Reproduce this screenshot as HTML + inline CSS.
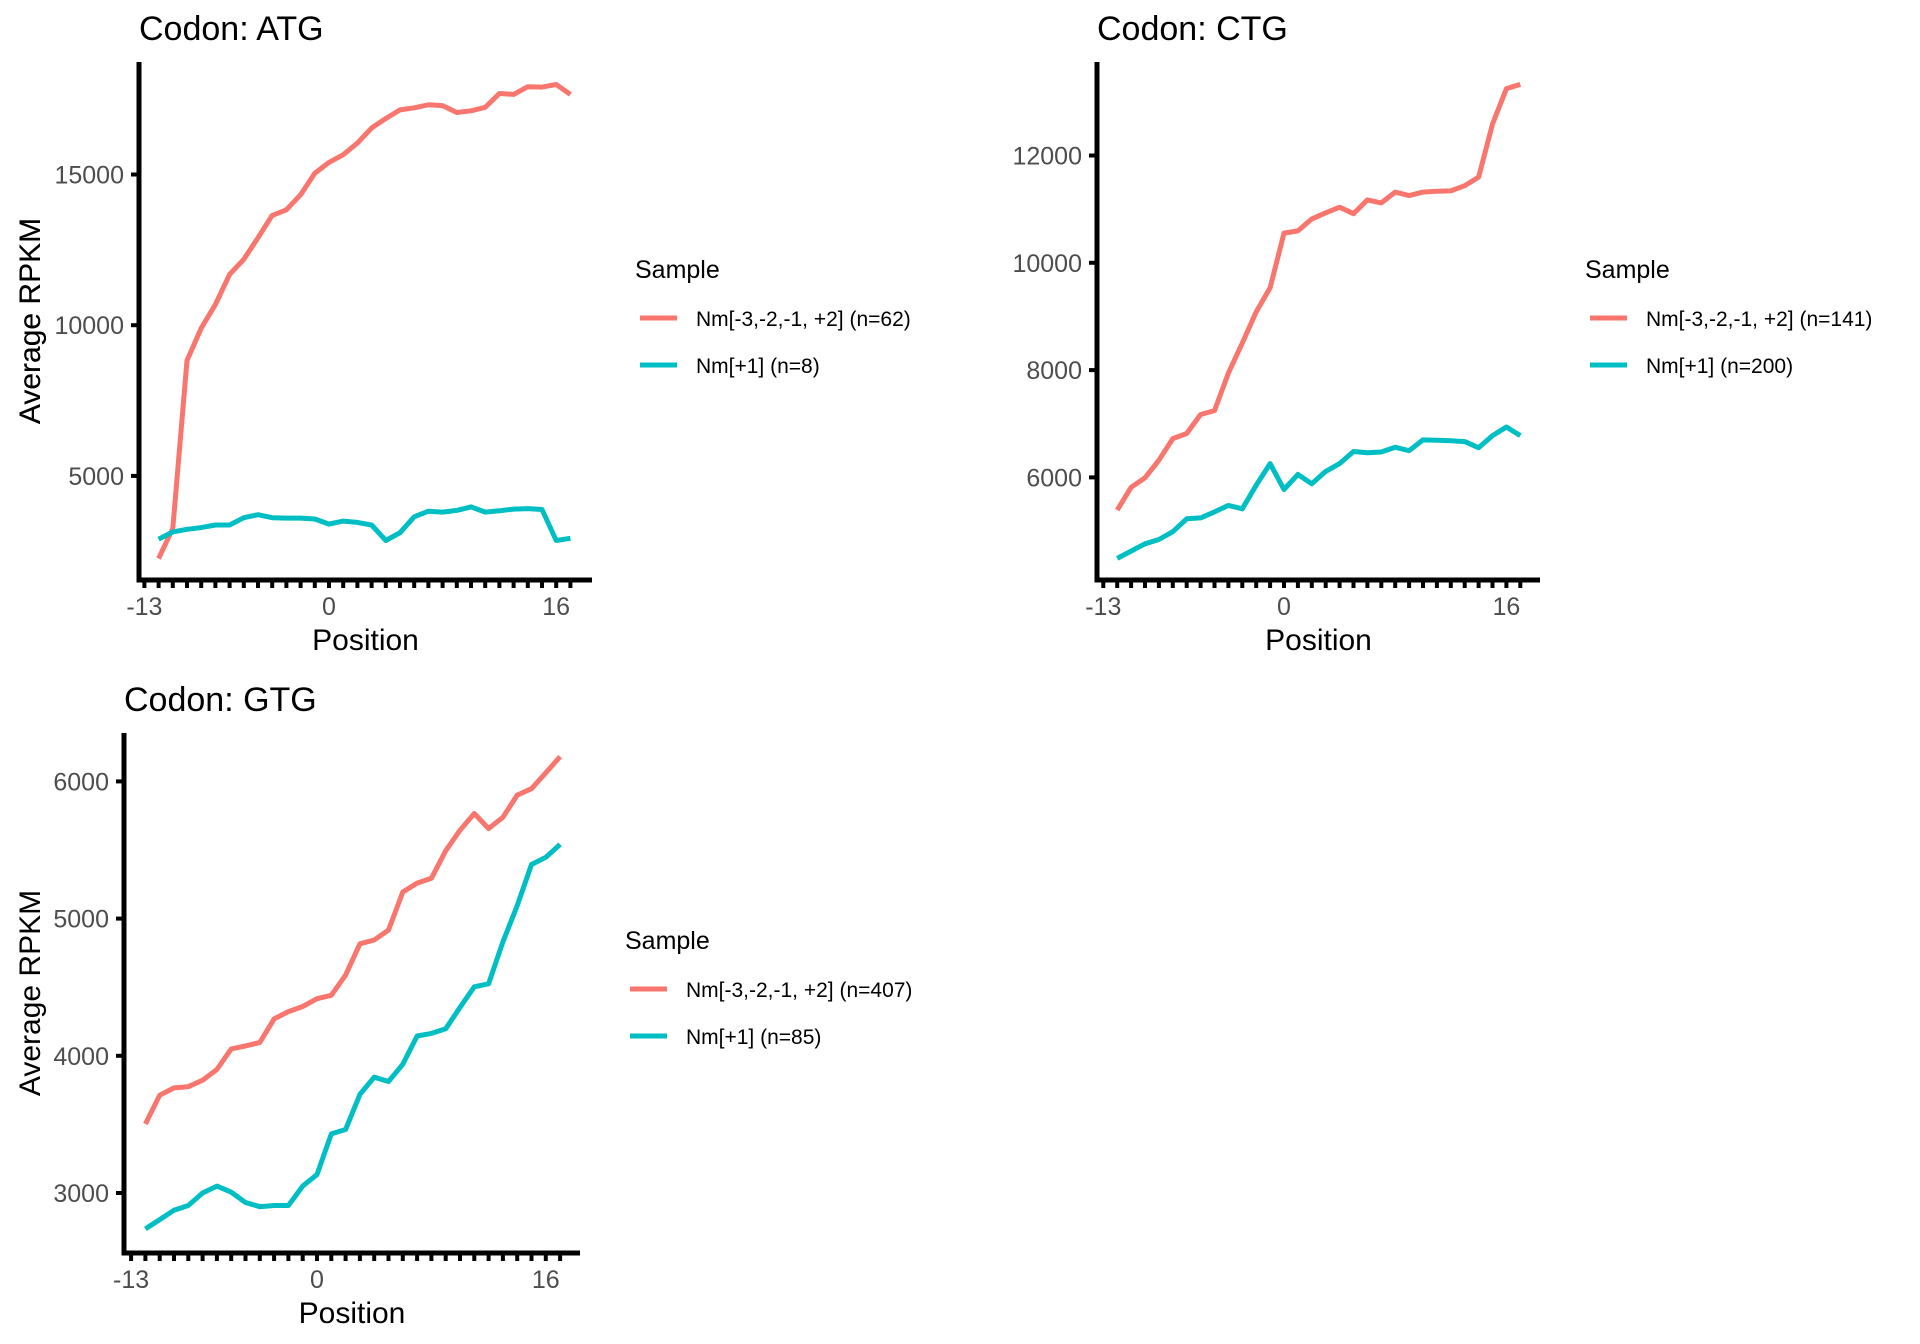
<!DOCTYPE html>
<html><head><meta charset="utf-8"><style>
html,body{margin:0;padding:0;background:#fff;overflow:hidden;}
svg{display:block;font-family:"Liberation Sans",Arial,sans-serif;}
</style></head><body>
<svg id="chart" width="1920" height="1344" viewBox="0 0 1920 1344" xmlns="http://www.w3.org/2000/svg"></svg>
<script>
const positions = [-12,-11,-10,-9,-8,-7,-6,-5,-4,-3,-2,-1,0,1,2,3,4,5,6,7,8,9,10,11,12,13,14,15,16,17];
const xTickLabels = [-13, 0, 16];
const atgRed = [2257,3257,8829,9900,10686,11686,12186,12900,13643,13829,14329,15043,15400,15657,16043,16543,16857,17143,17214,17314,17286,17057,17114,17229,17686,17657,17914,17900,17986,17657];
const atgTeal = [2900,3143,3229,3286,3371,3371,3614,3714,3614,3600,3600,3571,3400,3500,3457,3371,2857,3114,3643,3829,3800,3857,3971,3800,3843,3900,3914,3886,2857,2929];
const atgYTicks = [5000,10000,15000];
const ctgRed = [5390,5815,5992,6321,6723,6819,7173,7245,7944,8506,9084,9534,10554,10594,10819,10932,11036,10916,11173,11116,11317,11253,11317,11333,11341,11438,11598,12586,13245,13325];
const ctgTeal = [4490,4627,4763,4843,4988,5229,5245,5357,5478,5414,5855,6257,5775,6056,5880,6112,6257,6482,6458,6474,6562,6498,6699,6691,6683,6667,6554,6779,6940,6779];
const ctgYTicks = [6000,8000,10000,12000];
const gtgRed = [3503,3713,3766,3775,3822,3900,4050,4072,4097,4269,4322,4359,4416,4441,4588,4816,4844,4916,5194,5259,5294,5494,5644,5766,5656,5738,5900,5947,6063,6181];
const gtgTeal = [2738,2806,2875,2909,3000,3050,3006,2931,2900,2909,2909,3050,3134,3431,3463,3719,3844,3813,3938,4144,4163,4197,4353,4503,4525,4831,5094,5394,5447,5541];
const gtgYTicks = [3000,4000,5000,6000];
const seriesNames = ["Nm[-3,-2,-1, +2]", "Nm[+1]"];
const atgN = [62, 8];
const ctgN = [141, 200];
const gtgN = [407, 85];

const NS = "http://www.w3.org/2000/svg";
const svg = document.getElementById("chart");
const RED = "#F8766D", TEAL = "#00BFC4";

function mk(tag, attrs, parent, text) {
  const e = document.createElementNS(NS, tag);
  for (const k in attrs) e.setAttribute(k, attrs[k]);
  if (text !== undefined) e.textContent = text;
  (parent || svg).appendChild(e);
  return e;
}

function panel(cfg) {
  const g = mk("g", {});
  
  
  const xs = p => cfg.x0 + p * cfg.xUnit;
  const ys = v => cfg.yRefPx - (v - cfg.yRefVal) * cfg.yPerUnit;

  const t = mk("text", {x: cfg.axisX, y: cfg.top - 22, "font-size": 34, fill: "#000"}, g, "Codon: " + cfg.codon);
  
  

  [[cfg.red, RED, 'red'], [cfg.teal, TEAL, 'teal']].forEach(([vals, col, nm]) => {
    const pts = positions.map((p, i) => xs(p).toFixed(1) + "," + ys(vals[i]).toFixed(1)).join(" ");
    const pl = mk("polyline", {points: pts, fill: "none", stroke: col, "stroke-width": 5, "stroke-linejoin": "round"}, g);
    
    
  });

  const ya = mk("line", {x1: cfg.axisX, y1: cfg.top, x2: cfg.axisX, y2: cfg.axisY + 2.5, stroke: "#000", "stroke-width": 5}, g);
  
  
  const xa = mk("line", {x1: cfg.axisX - 2.5, y1: cfg.axisY, x2: cfg.right, y2: cfg.axisY, stroke: "#000", "stroke-width": 5}, g);
  
  

  for (let p = -13; p <= 17; p++) {
    const tk = mk("line", {x1: xs(p), y1: cfg.axisY, x2: xs(p), y2: cfg.axisY + 8, stroke: "#000", "stroke-width": 4}, g);
    
    
  }
  xTickLabels.forEach(p => {
    const l = mk("text", {x: xs(p), y: cfg.axisY + 35, "font-size": 25, fill: "#4D4D4D", "text-anchor": "middle"}, g, String(p));
    
    
  });
  cfg.yTicks.forEach(v => {
    const tk = mk("line", {x1: cfg.axisX - 8, y1: ys(v), x2: cfg.axisX, y2: ys(v), stroke: "#000", "stroke-width": 4}, g);
    
    
    const l = mk("text", {x: cfg.axisX - 15, y: ys(v) + 9, "font-size": 25, fill: "#4D4D4D", "text-anchor": "end"}, g, String(v));
    
    
  });

  const xt = mk("text", {x: (cfg.axisX + cfg.right) / 2, y: cfg.axisY + 70, "font-size": 30, fill: "#000", "text-anchor": "middle"}, g, "Position");
  
  
  const ym = (cfg.top + cfg.axisY) / 2;
  const yt = mk("text", {x: 0, y: 0, "font-size": 30, fill: "#000", "text-anchor": "middle", transform: "translate(40," + ym + ") rotate(-90)"}, g, "Average RPKM");
  
  

  const lg = mk("g", {}, g);
  
  
  const lt = mk("text", {x: cfg.legX, y: cfg.top + 216, "font-size": 25, fill: "#000"}, lg, "Sample");
  
  
  [RED, TEAL].forEach((col, i) => {
    const ly = cfg.top + 256 + i * 47;
    const ln = mk("line", {x1: cfg.legX + 5, y1: ly, x2: cfg.legX + 42, y2: ly, stroke: col, "stroke-width": 5}, lg);
    
    
    const tx = mk("text", {x: cfg.legX + 61, y: ly + 8, "font-size": 21, fill: "#000"}, lg, seriesNames[i] + " (n=" + cfg.n[i] + ")");
    
    
  });
}

panel({key: "atg", codon: "ATG", axisX: 139, top: 62, axisY: 580, right: 592, x0: 329, xUnit: 14.2,
  yRefVal: 15000, yRefPx: 174.5, yPerUnit: 150.7 / 5000, yTicks: atgYTicks, red: atgRed, teal: atgTeal, n: atgN, legX: 635});
panel({key: "ctg", codon: "CTG", axisX: 1097, top: 62, axisY: 580, right: 1540, x0: 1284, xUnit: 13.9,
  yRefVal: 6000, yRefPx: 477.4, yPerUnit: 107.3 / 2000, yTicks: ctgYTicks, red: ctgRed, teal: ctgTeal, n: ctgN, legX: 1585});
panel({key: "gtg", codon: "GTG", axisX: 124, top: 733, axisY: 1253, right: 580, x0: 317, xUnit: 14.3,
  yRefVal: 3000, yRefPx: 1193, yPerUnit: 137.2 / 1000, yTicks: gtgYTicks, red: gtgRed, teal: gtgTeal, n: gtgN, legX: 625});
</script>
</body></html>
